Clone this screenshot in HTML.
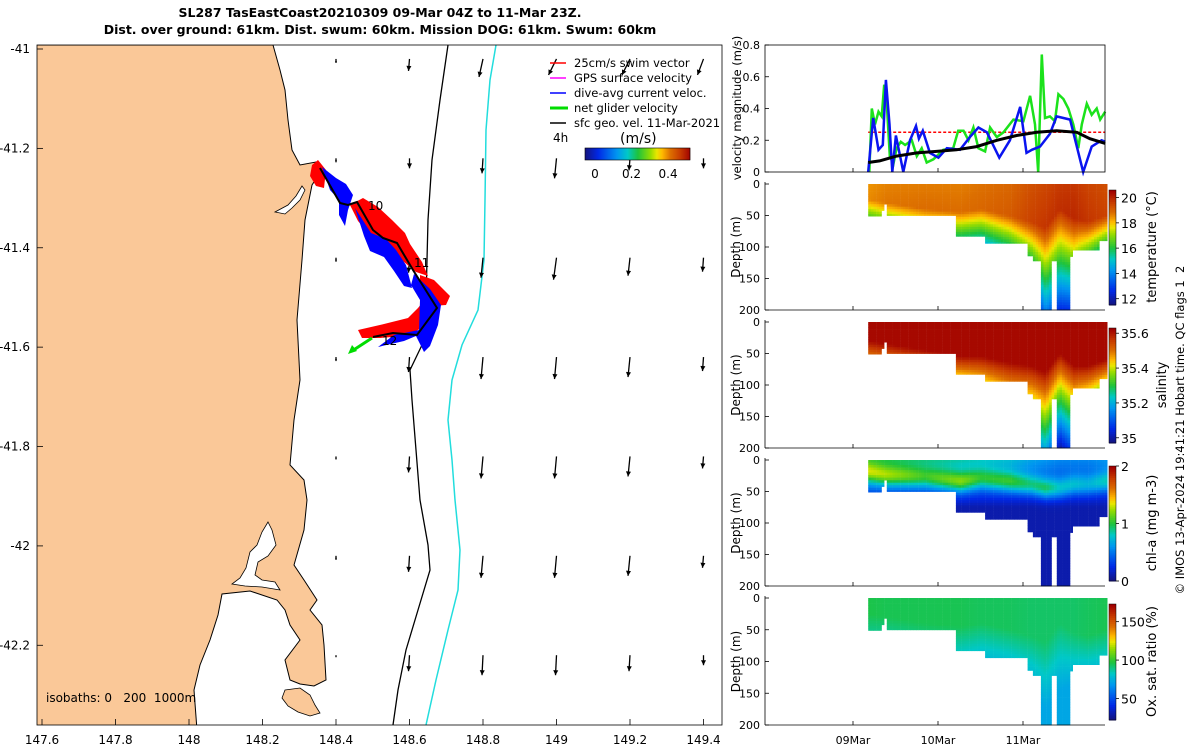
<!DOCTYPE html>
<html><head><meta charset="utf-8"><style>
html,body{margin:0;padding:0;background:#fff}
svg{display:block;font-family:"DejaVu Sans","Liberation Sans",sans-serif}
</style></head><body>
<svg id="fig" width="1200" height="750" viewBox="0 0 1200 750" xmlns="http://www.w3.org/2000/svg">
<defs>
<clipPath id="mapclip"><rect x="37" y="45" width="685" height="680"/></clipPath>
</defs>
<text x="380" y="17" text-anchor="middle" font-size="12.5" font-weight="bold">SL287 TasEastCoast20210309 09-Mar 04Z to 11-Mar 23Z.</text>
<text x="380" y="34" text-anchor="middle" font-size="12.5" font-weight="bold">Dist. over ground: 61km. Dist. swum: 60km. Mission DOG: 61km. Swum: 60km</text>
<g id="map" clip-path="url(#mapclip)">
<rect x="37" y="45" width="685" height="680" fill="#fff"/>
<path fill="#fac898" stroke="#000" stroke-width="1" d="M30,45 L273,45 L280,70 L285,90 L288,120 L292,150 L300,165 L316,162 L322,170 L312,185 L305,220 L302,260 L297,320 L300,380 L297,400 L294,420 L290,465 L304,480 L307,500 L304,530 L294,565 L304,580 L317,600 L310,610 L322,625 L324,645 L326,680 L314,686 L300,684 L290,680 L285,660 L300,640 L290,625 L285,610 L277,600 L250,591 L222,594 L218,615 L210,640 L200,665 L194,690 L197,730 L30,730 Z"/>
<path fill="#fff" stroke="#000" stroke-width="0.8" d="M268,522 L272,530 L276,545 L268,556 L258,562 L255,575 L262,580 L275,582 L280,590 L262,587 L245,586 L232,584 L240,578 L246,568 L250,552 L257,545 L262,532 Z"/>
<path fill="#fff" stroke="#000" stroke-width="0.8" d="M305,190 L300,200 L292,208 L285,214 L275,212 L288,205 L296,196 L302,186 Z"/>
<path fill="#fac898" stroke="#000" stroke-width="0.8" d="M285,690 L300,688 L310,695 L315,705 L320,713 L310,716 L298,712 L288,706 L282,698 Z"/>
<path fill="none" stroke="#000" stroke-width="1.3" d="M448,45 L440,100 L432,160 L428,220 L426,300 L422,345 L410,370 L412,400 L416,450 L420,500 L428,545 L430,570 L418,610 L406,650 L398,690 L393,725"/>
<path fill="none" stroke="#22dddd" stroke-width="1.5" d="M496,45 L490,80 L486,130 L485,200 L484,260 L478,310 L462,345 L452,380 L448,420 L452,460 L455,500 L460,550 L458,590 L448,630 L436,680 L426,725"/>
<g id="arrows"></g>
<g id="track">
<path fill="#f00" d="M312,165 L318,160 L326,170 L324,188 L316,186 L310,176 Z M350,205 L363,198 L378,207 L392,220 L405,233 L410,244 L422,262 L428,276 L416,272 L404,262 L392,252 L378,242 L368,233 L358,221 Z M420,275 L434,280 L450,296 L446,305 L432,306 L420,292 Z M358,330 L384,324 L408,318 L418,308 L426,298 L432,312 L422,328 L405,336 L380,338 L362,338 Z"/>
<path fill="#00f" d="M322,167 L336,178 L346,184 L353,195 L348,210 L345,226 L339,215 L339,200 L330,190 Z M355,208 L371,233 L386,239 L396,250 L406,265 L412,288 L404,286 L394,271 L384,257 L370,251 L364,236 Z M414,274 L430,289 L441,305 L438,325 L430,346 L424,352 L416,336 L404,341 L378,347 L394,335 L419,330 L420,300 L411,285 Z"/>
<polyline fill="none" stroke="#000" stroke-width="2" points="320,168 340,203 348,205 357,202 373,230 383,238 397,243 413,270 437,308 417,335 393,333 373,337"/>
<line x1="372" y1="338" x2="352" y2="351" stroke="#0d0" stroke-width="3"/>
<polygon points="348,354 352,345 357,351" fill="#0d0"/>
<text x="368" y="210" font-size="12">10</text>
<text x="414" y="267" font-size="12">11</text>
<text x="382" y="345" font-size="12">12</text>
</g>
<text x="46" y="702" font-size="12" style="white-space:pre">isobaths: 0   200  1000m</text>
</g>
<rect x="37" y="45" width="685" height="680" fill="none" stroke="#000" stroke-width="0.8"/>
<g id="legend" font-size="11.5">
<line x1="566" y1="63" x2="550" y2="63" stroke="#f00" stroke-width="1.5"/>
<text x="574" y="67">25cm/s swim vector</text>
<line x1="566" y1="78" x2="550" y2="78" stroke="#f0f" stroke-width="1.5"/>
<text x="574" y="82">GPS surface velocity</text>
<line x1="566" y1="93" x2="550" y2="93" stroke="#00f" stroke-width="1.5"/>
<text x="574" y="97">dive-avg current veloc.</text>
<line x1="568" y1="108" x2="550" y2="108" stroke="#0d0" stroke-width="3"/>
<text x="574" y="112">net glider velocity</text>
<line x1="566" y1="123" x2="550" y2="123" stroke="#000" stroke-width="1.5"/>
<text x="574" y="127">sfc geo. vel. 11-Mar-2021</text>
<text x="553" y="142" font-size="12">4h</text>
<text x="620" y="143" font-size="14">(m/s)</text>
</g>
<g id="mapcb"></g>
<g id="mapaxes" font-size="12"></g>
<g id="right"></g>
<text transform="translate(1184,430) rotate(-90)" text-anchor="middle" font-size="11.5" style="white-space:pre">© IMOS 13-Apr-2024 19:41:21 Hobart time. QC flags 1  2</text>
</svg>
<script>
// ---------- data ----------
const xTickLons = [147.6,147.8,148,148.2,148.4,148.6,148.8,149,149.2,149.4];
const xTickLabels = ["147.6","147.8","148","148.2","148.4","148.6","148.8","149","149.2","149.4"];
const yTickLats = [-41,-41.2,-41.4,-41.6,-41.8,-42,-42.2];
const yTickLabels = ["-41","-41.2","-41.4","-41.6","-41.8","-42","-42.2"];
const arrowLons = [148.4,148.6,148.8,149,149.2,149.4];
const arrowLats = [-41.02,-41.22,-41.42,-41.62,-41.82,-42.02,-42.22];
const arrowU = [[0,-0.01,-0.04,-0.08,-0.08,-0.06],[0,0,-0.01,-0.02,-0.01,0],[0,-0.01,-0.02,-0.03,-0.02,-0.01],[0,-0.01,-0.02,-0.02,-0.02,-0.01],[0,-0.01,-0.02,-0.02,-0.02,-0.01],[0,-0.01,-0.02,-0.02,-0.02,-0.01],[0,-0.01,-0.01,-0.01,-0.01,0]];
const arrowV = [[-0.04,-0.12,-0.18,-0.16,-0.16,-0.16],[-0.04,-0.1,-0.15,-0.2,-0.12,-0.1],[-0.04,-0.15,-0.2,-0.22,-0.18,-0.14],[-0.04,-0.15,-0.22,-0.22,-0.2,-0.14],[-0.03,-0.16,-0.22,-0.22,-0.2,-0.12],[-0.04,-0.16,-0.22,-0.22,-0.2,-0.12],[-0.02,-0.16,-0.2,-0.2,-0.16,-0.1]];
const speedTicks = [0,0.2,0.4];
const speedTickLabels = ["0","0.2","0.4"];

const blueHours = [4.3,5.7,7.2,8.4,9.3,10.3,11.1,12.1,13.3,14.2,16.1,17.8,18.6,19.7,21.7,24.1,26.5,30.2,33.0,35.4,37.8,41.3,44.3,47.2,49.0,50.5,52.8,55.6,57.5,61.3,65.0,67.4,70.2,71.2];
const blueVals = [0,0.34,0.14,0.17,0.58,0.3,0,0.23,0.1,0,0.2,0.29,0.21,0.26,0.12,0.09,0.15,0.14,0.22,0.28,0.25,0.09,0.2,0.41,0.12,0.14,0.16,0.24,0.35,0.33,0,0.16,0.2,0.19];
const greenHours = [4.6,5.3,6.2,7.2,8.1,8.8,9.5,10.4,11.4,12.3,13.5,14.7,16.6,18.0,19.4,20.8,22.7,25.5,28.3,29.7,31.2,32.6,34.0,35.4,37.3,38.7,40.6,42.5,45.3,48.1,50.0,51.4,52.3,53.3,54.2,55.6,57.0,58.0,59.4,60.8,62.2,63.6,64.6,66.0,67.4,68.8,69.8,71.2];
const greenVals = [0,0.4,0.3,0.38,0.35,0.55,0.45,0.1,0.05,0.15,0.19,0.17,0.2,0.1,0.15,0.06,0.08,0.14,0.15,0.26,0.26,0.2,0.28,0.15,0.13,0.28,0.22,0.25,0.33,0.32,0.48,0.3,0,0.74,0.34,0.35,0.32,0.49,0.46,0.4,0.3,0.15,0.3,0.43,0.36,0.4,0.33,0.38];
const blackHours = [4.3,7.5,12.3,18.0,23.6,29.2,34.9,40.6,46.2,51.9,57.5,63.2,66.9,71.2];
const blackVals = [0.06,0.07,0.1,0.12,0.13,0.14,0.16,0.2,0.23,0.25,0.26,0.25,0.21,0.18];
const swimHours = [4.3,71.2];
const swimVals = [0.25,0.25];
const velTicks = [0,0.2,0.4,0.6,0.8];
const velTickLabels = ["0","0.2","0.4","0.6","0.8"];
const dayHours = [0,24,48];
const dayLabels = ["09Mar","10Mar","11Mar"];
const depthTicks = [0,50,100,150,200];
const depthTickLabels = ["0","50","100","150","200"];

const segStartHours = [4.3,7.6,8.4,9.2,28.8,36.7,49.1,50.8,52.8,55.4,57,61,61.9,69.2];
const segMaxDepth = [51,42,32,50,83,94,114,122,200,122,200,115,105,90];
const profileEndHour = 71.2;

const keyHours = [4,9,20,30,36,44,50,54,58,62,66,71];
const tempSurf = [18.6,18.8,18.9,18.9,19.0,19.2,19.6,19.8,19.9,20.0,19.8,19.6];
const tempMLD = [25,30,40,45,40,50,60,70,40,55,60,50];
const tempGrad = [0.08,0.08,0.07,0.08,0.08,0.07,0.06,0.045,0.046,0.05,0.07,0.08];
const salSurf = [35.62,35.62,35.62,35.62,35.62,35.62,35.62,35.62,35.62,35.62,35.62,35.62];
const salMLD = [30,35,45,55,55,65,70,80,50,70,70,60];
const salGrad = [0.005,0.005,0.005,0.006,0.005,0.004,0.004,0.0035,0.0042,0.004,0.005,0.006];
const chlSurf = [0.85,0.85,0.8,0.75,0.7,0.65,0.55,0.5,0.45,0.45,0.45,0.5];
const chlPeak = [0.6,0.6,0.45,0.7,0.5,0.6,0.55,0.65,0.5,0.45,0.4,0.45];
const chlPeakDepth = [20,25,28,35,30,35,40,45,45,40,40,35];
const oxySurf = [96,95,95,95,94,94,93,93,93,93,94,95];
const oxyGrad = [0.25,0.25,0.25,0.3,0.3,0.3,0.25,0.2,0.2,0.25,0.3,0.3];

const tempTicks = [12,14,16,18,20], tempRange=[11.5,20.6];
const salTicks = [35,35.2,35.4,35.6], salTickLabels=["35","35.2","35.4","35.6"], salRange=[34.97,35.63];
const chlTicks = [0,1,2], chlRange=[0,2];
const oxyTicks = [50,100,150], oxyRange=[22,173];

// ---------- helpers ----------
const NS="http://www.w3.org/2000/svg";
function mk(tag, attrs, parent){const e=document.createElementNS(NS,tag);for(const k in attrs)e.setAttribute(k,attrs[k]);parent.appendChild(e);return e;}
const STOPS=[[0,[20,20,130]],[0.12,[0,40,230]],[0.3,[0,150,240]],[0.4,[0,200,200]],[0.5,[30,195,60]],[0.62,[150,220,0]],[0.68,[235,230,0]],[0.73,[255,185,0]],[0.81,[220,110,0]],[0.9,[200,60,0]],[1,[160,0,0]]];
function jet(t){t=Math.max(0,Math.min(1,t));for(let i=1;i<STOPS.length;i++){if(t<=STOPS[i][0]){const a=STOPS[i-1],b=STOPS[i],f=(t-a[0])/(b[0]-a[0]);const c=a[1].map((v,j)=>Math.round(v+(b[1][j]-v)*f));return `rgb(${c[0]},${c[1]},${c[2]})`;}}return 'rgb(160,0,0)';}
function interp(xs,ys,x){if(x<=xs[0])return ys[0];for(let i=1;i<xs.length;i++){if(x<=xs[i]){const f=(x-xs[i-1])/(xs[i]-xs[i-1]);return ys[i-1]+(ys[i]-ys[i-1])*f;}}return ys[ys.length-1];}
function maxDepthAt(h){let d=segMaxDepth[0];for(let i=0;i<segStartHours.length;i++){if(h>=segStartHours[i])d=segMaxDepth[i];}return d;}

const lonX = lon => 42 + (lon-147.6)*367.5;
const latY = lat => 49 + (-41-lat)*496.9;

// ---------- map ----------
const arrowsG=document.getElementById('arrows');
const arrowScale=100;
for(let r=0;r<arrowLats.length;r++){for(let c=0;c<arrowLons.length;c++){
  const x0=lonX(arrowLons[c]), y0=latY(arrowLats[r]);
  const dx=arrowU[r][c]*arrowScale, dy=-arrowV[r][c]*arrowScale;
  const x1=x0+dx, y1=y0+dy;
  const ln=mk('line',{x1:x0,y1:y0,x2:x1,y2:y1,stroke:'#000','stroke-width':1.3},arrowsG);
  
  
  const L=Math.hypot(dx,dy)||1, ux=dx/L, uy=dy/L, hs=Math.min(5,L*0.5);
  const hd=mk('polygon',{points:`${x1},${y1} ${x1-ux*hs-uy*hs*0.5},${y1-uy*hs+ux*hs*0.5} ${x1-ux*hs+uy*hs*0.5},${y1-uy*hs-ux*hs*0.5}`,fill:'#000'},arrowsG);
  
  
}}
const ax=document.getElementById('mapaxes');
xTickLons.forEach((lon,i)=>{
  const x=lonX(lon);
  const tk=mk('line',{x1:x,y1:725,x2:x,y2:719,stroke:'#000','stroke-width':0.8},ax);
  
  
  const t=mk('text',{x:x,y:744,'text-anchor':'middle'},ax);t.textContent=xTickLabels[i];
  
  
});
yTickLats.forEach((lat,i)=>{
  const y=latY(lat);
  const tk=mk('line',{x1:37,y1:y,x2:43,y2:y,stroke:'#000','stroke-width':0.8},ax);
  
  
  const t=mk('text',{x:30,y:y+4,'text-anchor':'end'},ax);t.textContent=yTickLabels[i];
  
  
});
const cb=document.getElementById('mapcb');
const cbX0=585,cbX1=690,cbMax=0.52;
for(let i=0;i<105;i++){const r=mk('rect',{x:cbX0+i,y:148,width:1.2,height:12,fill:jet(i/105)},cb);
  
  }
const cbf=mk('rect',{x:cbX0,y:148,width:cbX1-cbX0,height:12,fill:'none',stroke:'#000','stroke-width':0.6},cb);


speedTicks.forEach((v,i)=>{const x=cbX0+10+v/cbMax*(cbX1-cbX0-10);
  const t=mk('text',{x:x,y:178,'text-anchor':'middle','font-size':12},cb);t.textContent=speedTickLabels[i];
  
  });

// ---------- right panels ----------
const R=document.getElementById('right');
const PX0=765, PX1=1105;
const hx = h => 853 + h*85/24;
const panels=[
 {top:184,bot:310,name:'temperature',title:'temperature (°C)',range:tempRange,ticks:tempTicks,labels:tempTicks.map(String),
  f:(h,d)=>{const s=interp(keyHours,tempSurf,h),m=interp(keyHours,tempMLD,h),g=interp(keyHours,tempGrad,h);return d<m?s-(m-d)*0.004:s-(d-m)*g;}},
 {top:322,bot:448,name:'salinity',title:'salinity',range:salRange,ticks:salTicks,labels:salTickLabels,
  f:(h,d)=>{const s=interp(keyHours,salSurf,h),m=interp(keyHours,salMLD,h),g=interp(keyHours,salGrad,h);return d<m?s:s-(d-m)*g;}},
 {top:460,bot:586,name:'chlorophyll',title:'chl-a (mg m-3)',range:chlRange,ticks:chlTicks,labels:chlTicks.map(String),
  f:(h,d)=>{const s=interp(keyHours,chlSurf,h),p=interp(keyHours,chlPeak,h),pd=interp(keyHours,chlPeakDepth,h);const base=s*Math.max(0,1-d/75)+0.1;return base+p*Math.exp(-Math.pow((d-pd)/16,2));}},
 {top:598,bot:725,name:'oxygen',title:'Ox. sat. ratio (%)',range:oxyRange,ticks:oxyTicks,labels:oxyTicks.map(String),
  f:(h,d)=>{const s=interp(keyHours,oxySurf,h),m=interp(keyHours,tempMLD,h),g=interp(keyHours,oxyGrad,h);return Math.max(72,d<m?s:s-(d-m)*g);}}
];
panels.forEach(p=>{
  const g=mk('g',{},R);
  
  
  const dy=d=>p.top+(d/200)*(p.bot-p.top);
  for(let h=4.3;h<profileEndHour;h+=0.75){
    const md=maxDepthAt(h);
    for(let d=0;d<md;d+=4){
      const v=p.f(h,d+2);
      const c=mk('rect',{x:hx(h).toFixed(1),y:dy(d).toFixed(1),width:2.9,height:(dy(Math.min(md,d+4))-dy(d)+0.4).toFixed(1),fill:jet((v-p.range[0])/(p.range[1]-p.range[0]))},g);
      
      
    }
  }
  const la=mk('line',{x1:PX0,y1:p.top-2,x2:PX0,y2:p.bot,stroke:'#000','stroke-width':0.8},g);
  
  
  const ba=mk('line',{x1:PX0,y1:p.bot,x2:PX1,y2:p.bot,stroke:'#000','stroke-width':0.8},g);
  
  
  depthTicks.forEach((d,i)=>{
    const y=dy(d);
    const tk=mk('line',{x1:PX0,y1:y,x2:PX0+4,y2:y,stroke:'#000','stroke-width':0.8},g);
    
    
    const t=mk('text',{x:PX0-5,y:y+4,'text-anchor':'end','font-size':11},g);t.textContent=depthTickLabels[i];
    
    
  });
  dayHours.forEach(h=>{const tk=mk('line',{x1:hx(h),y1:p.bot,x2:hx(h),y2:p.bot-4,stroke:'#000','stroke-width':0.8},g);
    
    });
  const yt=mk('text',{transform:`translate(740,${(p.top+p.bot)/2}) rotate(-90)`,'text-anchor':'middle','font-size':12},g);yt.textContent='Depth (m)';
  
  
  const cy0=p.top+6, cy1=p.bot-5;
  for(let i=0;i<60;i++){const r=mk('rect',{x:1109,y:(cy1-(i+1)*(cy1-cy0)/60).toFixed(1),width:7,height:((cy1-cy0)/60+0.5).toFixed(1),fill:jet(i/59)},g);
    
    }
  const cf=mk('rect',{x:1109,y:cy0,width:7,height:cy1-cy0,fill:'none',stroke:'#000','stroke-width':0.5},g);
  
  
  p.ticks.forEach((v,i)=>{const y=cy1-(v-p.range[0])/(p.range[1]-p.range[0])*(cy1-cy0);
    const tk=mk('line',{x1:1116,y1:y,x2:1119,y2:y,stroke:'#000','stroke-width':0.8},g);
    
    
    const t=mk('text',{x:1121,y:y+5,'font-size':12.5},g);t.textContent=p.labels[i];
    
    });
  const ct=mk('text',{transform:`translate(${p.name==='salinity'?1166:1156},${(p.top+p.bot)/2}) rotate(-90)`,'text-anchor':'middle','font-size':13},g);ct.textContent=p.title;
  
  
});
dayHours.forEach((h,i)=>{const t=mk('text',{x:hx(h),y:744,'text-anchor':'middle','font-size':11},R);t.textContent=dayLabels[i];
  
  });

// velocity panel
const V=mk('g',{},R);


const vy=v=>172-v*158.75;
const pts=(hs,vs)=>hs.map((h,i)=>hx(h).toFixed(1)+','+vy(vs[i]).toFixed(1)).join(' ');
const sl=mk('polyline',{points:pts(swimHours,swimVals),fill:'none',stroke:'#f00','stroke-width':1.5,'stroke-dasharray':'3,2'},V);


const gl=mk('polyline',{points:pts(greenHours,greenVals),fill:'none',stroke:'#1be21b','stroke-width':2.5},V);


const bl=mk('polyline',{points:pts(blueHours,blueVals),fill:'none',stroke:'#0a14f0','stroke-width':2.5},V);


const kl=mk('polyline',{points:pts(blackHours,blackVals),fill:'none',stroke:'#000','stroke-width':3},V);


const vf=mk('rect',{x:PX0,y:45,width:PX1-PX0,height:127,fill:'none',stroke:'#000','stroke-width':0.8},V);


velTicks.forEach((v,i)=>{const y=vy(v);
  const tk=mk('line',{x1:PX0,y1:y,x2:PX0+4,y2:y,stroke:'#000','stroke-width':0.8},V);
  
  
  const t=mk('text',{x:PX0-5,y:y+4,'text-anchor':'end','font-size':11},V);t.textContent=velTickLabels[i];
  
  });
dayHours.forEach(h=>{const tk=mk('line',{x1:hx(h),y1:172,x2:hx(h),y2:168,stroke:'#000','stroke-width':0.8},V);
  
  });
const vt=mk('text',{transform:'translate(741,108) rotate(-90)','text-anchor':'middle','font-size':11.5},V);vt.textContent='velocity magnitude (m/s)';


</script>
</body></html>
